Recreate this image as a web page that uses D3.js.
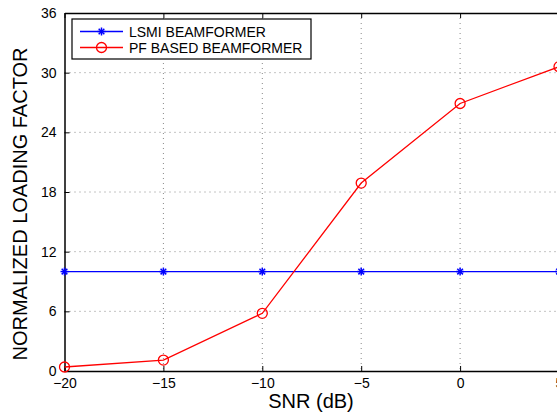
<!DOCTYPE html>
<html>
<head>
<meta charset="utf-8">
<script src="https://cdn.jsdelivr.net/npm/d3@7"></script>
<style>
  body { margin: 0; background: #fff; }
  text { font-family: Arial, "Liberation Sans", sans-serif; }
</style>
</head>
<body>
<div id="chart"></div>
<script>
// data
var snr = [-20, -15, -10, -5, 0, 5];
var lsmi = [10, 10, 10, 10, 10, 10];
var pfBased = [0.4, 1.1, 5.8, 18.9, 26.9, 30.6];
var xTicks = [-20, -15, -10, -5, 0, 5];
var yTicks = [0, 6, 12, 18, 24, 30, 36];

var w = 557, h = 415;
var margins = { top: 13, right: -2, bottom: 44, left: 64.5 };
var width = w - margins.left - margins.right;
var height = h - margins.top - margins.bottom;

var x = d3.scaleLinear().domain([-20, 5]).range([0, width]);
var y = d3.scaleLinear().domain([0, 36]).range([height, 0]);

var svg = d3.select("#chart").append("svg")
  .attr("width", w)
  .attr("height", h);

var g = svg.append("g")
  .attr("transform", "translate(" + margins.left + "," + margins.top + ")");

// dotted grid
g.selectAll(".vgrid").data(xTicks.slice(1, -1)).enter().append("line")
  .attr("x1", function(d) { return x(d); }).attr("x2", function(d) { return x(d); })
  .attr("y1", 0).attr("y2", height)
  .attr("stroke", "#888").attr("stroke-width", 1).attr("stroke-dasharray", "1,4");
g.selectAll(".hgrid").data(yTicks.slice(1, -1)).enter().append("line")
  .attr("y1", function(d) { return y(d); }).attr("y2", function(d) { return y(d); })
  .attr("x1", 0).attr("x2", width)
  .attr("stroke", "#888").attr("stroke-width", 1).attr("stroke-dasharray", "1,4");

// axes with inward ticks
var xAxis = g.append("g")
  .attr("transform", "translate(0," + height + ")")
  .call(d3.axisBottom(x).tickValues(xTicks).tickSizeInner(-5).tickSizeOuter(0).tickPadding(7)
    .tickFormat(function(d) { return d < 0 ? "\u2212" + Math.abs(d) : d; }));
var yAxis = g.append("g")
  .call(d3.axisLeft(y).tickValues(yTicks).tickSizeInner(-5).tickSizeOuter(0).tickPadding(8));
var topAxis = g.append("g")
  .call(d3.axisTop(x).tickValues(xTicks).tickSizeInner(-5).tickSizeOuter(0).tickFormat(""));

[xAxis, yAxis, topAxis].forEach(function(a) {
  a.select(".domain").attr("stroke", "#000").attr("stroke-width", 1.5);
  a.selectAll(".tick line").attr("stroke", "#000");
  a.selectAll("text").attr("font-size", "14px").attr("fill", "#000")
    .style("font-family", "Arial, 'Liberation Sans', sans-serif");
});

// lines
var line = d3.line()
  .x(function(d, i) { return x(snr[i]); })
  .y(function(d) { return y(d); });

g.append("path").datum(lsmi)
  .attr("fill", "none").attr("stroke", "#0000ff").attr("stroke-width", 1.3)
  .attr("d", line);
g.append("path").datum(pfBased)
  .attr("fill", "none").attr("stroke", "#ff0000").attr("stroke-width", 1.3)
  .attr("d", line);

// star marker
function star(sel, cx, cy, r, color) {
  [0, 45, 90, 135].forEach(function(a) {
    var rad = a * Math.PI / 180;
    sel.append("line")
      .attr("x1", cx - r * Math.cos(rad)).attr("y1", cy - r * Math.sin(rad))
      .attr("x2", cx + r * Math.cos(rad)).attr("y2", cy + r * Math.sin(rad))
      .attr("stroke", color).attr("stroke-width", 1.5);
  });
}

lsmi.forEach(function(d, i) { star(g, x(snr[i]), y(d), 4, "#0000ff"); });

g.selectAll(".pf").data(pfBased).enter().append("circle")
  .attr("cx", function(d, i) { return x(snr[i]); })
  .attr("cy", function(d) { return y(d); })
  .attr("r", 5)
  .attr("fill", "none").attr("stroke", "#ff0000").attr("stroke-width", 1.3);

// legend
var legend = svg.append("g");
legend.append("rect")
  .attr("x", 72).attr("y", 19).attr("width", 239).attr("height", 40)
  .attr("fill", "#fff").attr("stroke", "#000").attr("stroke-width", 1.2);
var items = [
  { name: "LSMI BEAMFORMER", color: "#0000ff", mark: "star" },
  { name: "PF BASED BEAMFORMER", color: "#ff0000", mark: "circle" }
];
items.forEach(function(it, i) {
  var ly = 31.5 + i * 16;
  legend.append("line").attr("x1", 80).attr("x2", 123).attr("y1", ly).attr("y2", ly)
    .attr("stroke", it.color).attr("stroke-width", 1.3);
  if (it.mark === "star") star(legend, 101.5, ly, 4, it.color);
  else legend.append("circle").attr("cx", 101.5).attr("cy", ly).attr("r", 5)
    .attr("fill", "none").attr("stroke", it.color).attr("stroke-width", 1.3);
  legend.append("text").attr("x", 129).attr("y", ly + 5)
    .attr("font-size", "14px").attr("fill", "#000").text(it.name);
});

// axis titles
svg.append("text")
  .attr("x", 311).attr("y", 408)
  .attr("text-anchor", "middle").attr("font-size", "20px")
  .text("SNR (dB)");
svg.append("text")
  .attr("transform", "translate(27,204) rotate(-90)")
  .attr("text-anchor", "middle").attr("font-size", "20px")
  .text("NORMALIZED LOADING FACTOR");
</script>
</body>
</html>
